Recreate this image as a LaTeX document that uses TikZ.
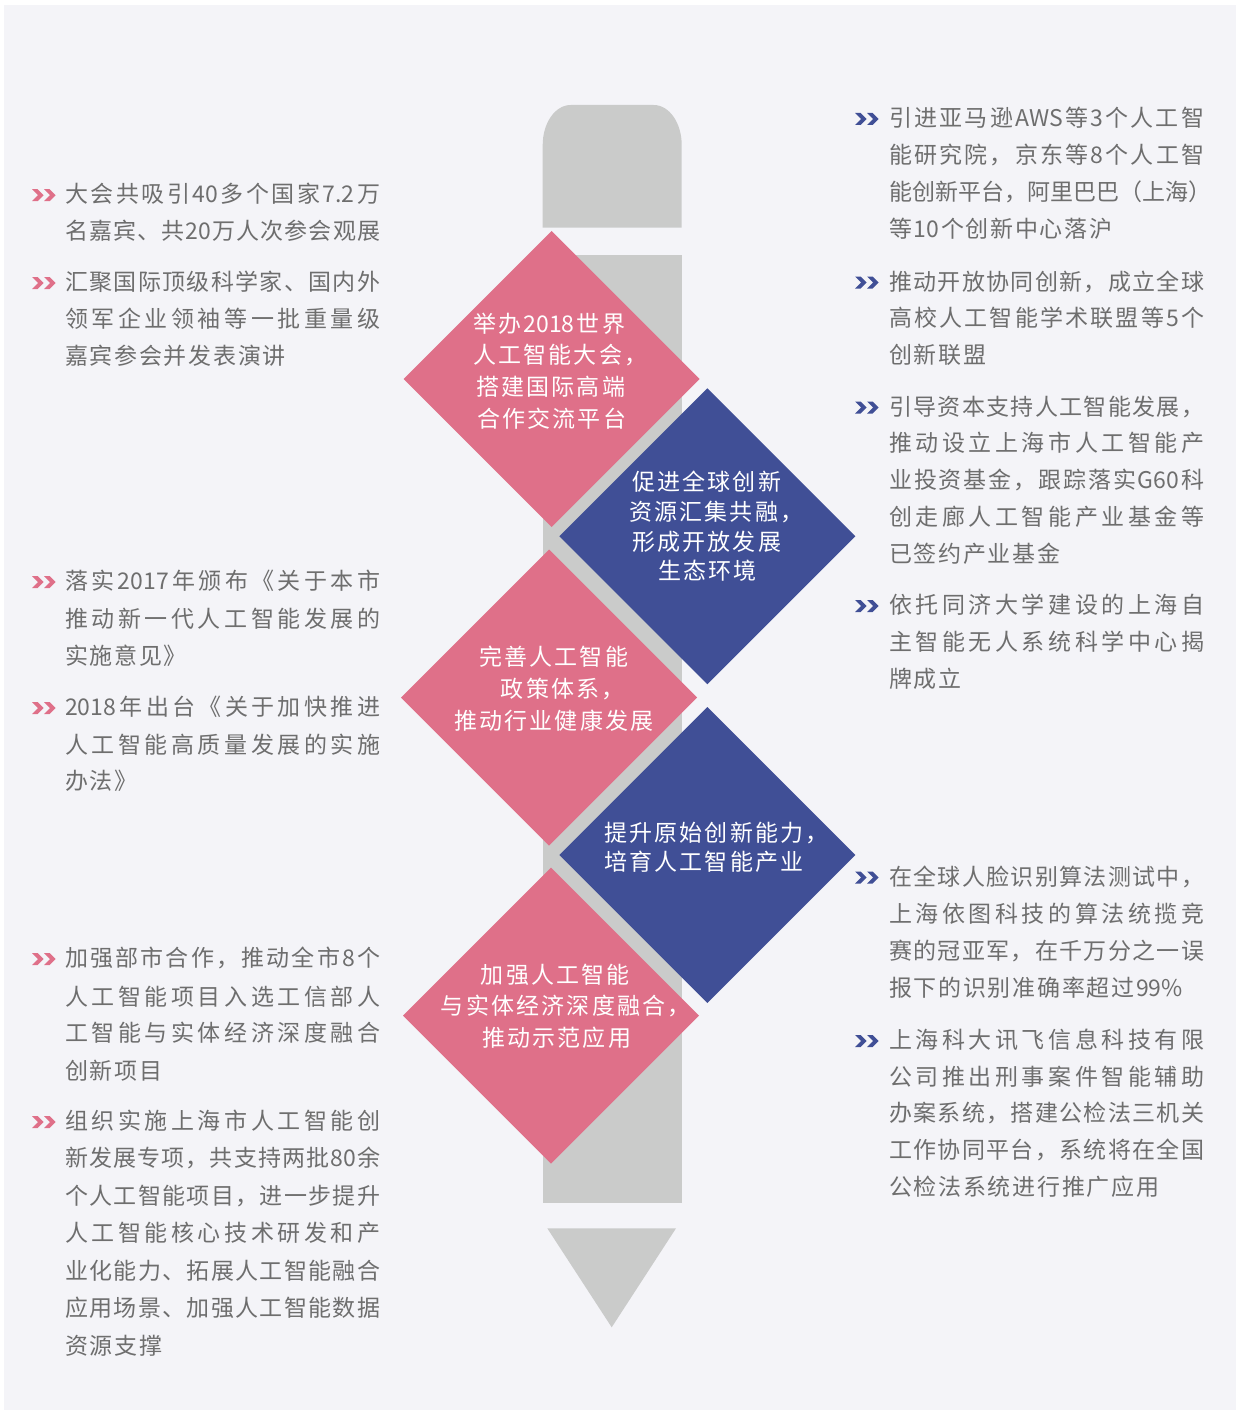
\documentclass[tikz,border=0pt]{standalone}
\usepackage{fontspec}
\setmainfont{Noto Sans CJK SC}
\definecolor{pinkc}{HTML}{DF7089}
\definecolor{bluec}{HTML}{404F96}
\definecolor{barc}{HTML}{CACBCA}
\definecolor{bgc}{HTML}{F4F4F8}
\definecolor{txtc}{HTML}{6E6E6E}
\ExplSyntaxOn
\NewDocumentCommand\JL{m}{\hbox_to_wd:nn {315pt} { \tl_map_inline:nn {#1} { ##1 \hfil } \unskip }}
\NewDocumentCommand\NL{m}{\tl_map_inline:nn {#1} { ##1 \kern 1.7pt } \unkern}
\NewDocumentCommand\DL{m}{\tl_map_inline:nn {#1} { ##1 \kern 2.2pt } \unkern}
\ExplSyntaxOff
\tikzset{
  txt/.style={inner sep=0pt, anchor=base west, text=txtc, font=\fontsize{23}{28}\selectfont},
  dtxt/.style={inner sep=0pt, anchor=base west, text=white, font=\fontsize{23}{28}\selectfont},
}
% full line, natural line, diamond line: name, x (ink left), y (ink centre), text
\newcommand\LF[4]{\node[txt] (#1) at (#2,#3+8.7) {\JL{#4}};}
\newcommand\LN[4]{\node[txt] (#1) at (#2,#3+8.7) {\NL{#4}};}
\newcommand\DT[4]{\node[dtxt] (#1) at (#2-1,#3+8.7) {\DL{#4}};}
\newcommand\chev[3]{%
  \fill[#3] (#1,#2-6) -- ++(5.6,0) -- ++(6,6) -- ++(-6,6) -- ++(-5.6,0) -- ++(6,-6) -- cycle;
  \fill[#3] (#1+12,#2-6) -- ++(5.6,0) -- ++(6,6) -- ++(-6,6) -- ++(-5.6,0) -- ++(6,-6) -- cycle;}
\begin{document}
\begin{tikzpicture}[x=1pt,y=-1pt]
\useasboundingbox (0,0) rectangle (1239,1415);
\fill[white] (0,0) rectangle (1239,1415);
\fill[bgc] (4,5) rectangle (1236,1410);
% pencil-like bar
\fill[barc] (542.7,227.7) -- (542.7,145) .. controls (542.7,122.9) and (555.2,105) .. (570.7,105)
  -- (653.7,105) .. controls (669.2,105) and (681.7,122.9) .. (681.7,145) -- (681.7,227.7) -- cycle;
\fill[barc] (542.7,255) rectangle (681.7,1202.7);
\fill[barc] (547.3,1228.3) -- (676,1228.3) -- (611.7,1327.3) -- cycle;
% diamonds
\fill[pinkc] (551.5,231) -- (699.5,379) -- (551.5,527) -- (403.5,379) -- cycle;
\fill[bluec] (707.3,388.3) -- (855.3,536.3) -- (707.3,684.3) -- (559.3,536.3) -- cycle;
\fill[pinkc] (549,549.5) -- (697,697.5) -- (549,845.5) -- (401,697.5) -- cycle;
\fill[bluec] (707.3,707) -- (855.3,855) -- (707.3,1003) -- (559.3,855) -- cycle;
\fill[pinkc] (551,867.7) -- (699,1015.7) -- (551,1163.7) -- (403,1015.7) -- cycle;
% diamond texts
\DT{p1a}{474}{323.5}{举办{2018}世界}
\DT{p1b}{474}{355}{人工智能大会，}
\DT{p1c}{477}{386.7}{搭建国际高端}
\DT{p1d}{478}{418.5}{合作交流平台}
\DT{q1a}{633}{482}{促进全球创新}
\DT{q1b}{630}{512}{资源汇集共融，}
\DT{q1c}{633}{541.7}{形成开放发展}
\DT{q1d}{659}{570.4}{生态环境}
\DT{p2a}{480}{657}{完善人工智能}
\DT{p2b}{501.7}{689}{政策体系，}
\DT{p2c}{455}{721}{推动行业健康发展}
\DT{q2a}{605}{833}{提升原始创新能力，}
\DT{q2b}{605}{862}{培育人工智能产业}
\DT{p3a}{481.7}{974.5}{加强人工智能}
\DT{p3b}{441.7}{1006}{与实体经济深度融合，}
\DT{p3c}{483}{1038}{推动示范应用}
% left column
\chev{32}{195.2}{pinkc}
\LF{a1}{65}{194.2}{大会共吸引{40}多个国家{7.2}万}
\LF{a2}{65}{230.8}{名嘉宾、共{20}万人次参会观展}
\chev{32}{283}{pinkc}
\LF{b1}{65}{282}{汇聚国际顶级科学家、国内外}
\LF{b2}{65}{318.5}{领军企业领袖等一批重量级}
\LN{b3}{65}{355.5}{嘉宾参会并发表演讲}
\chev{32}{582}{pinkc}
\LF{c1}{65}{581}{落实{2017}年颁布《关于本市}
\LF{c2}{65}{619}{推动新一代人工智能发展的}
\LN{c3}{65}{656}{实施意见》}
\chev{32}{708}{pinkc}
\LF{d1}{65}{707}{{2018}年出台《关于加快推进}
\LF{d2}{65}{744.5}{人工智能高质量发展的实施}
\LN{d3}{65}{781}{办法》}
\chev{32}{959}{pinkc}
\LF{e1}{65}{958}{加强部市合作，推动全市{8}个}
\LF{e2}{65}{996.5}{人工智能项目入选工信部人}
\LF{e3}{65}{1033}{工智能与实体经济深度融合}
\LN{e4}{65}{1070.5}{创新项目}
\chev{32}{1122}{pinkc}
\LF{f1}{65}{1121}{组织实施上海市人工智能创}
\LF{f2}{65}{1158}{新发展专项，共支持两批{80}余}
\LF{f3}{65}{1196}{个人工智能项目，进一步提升}
\LF{f4}{65}{1233}{人工智能核心技术研发和产}
\LF{f5}{65}{1271}{业化能力、拓展人工智能融合}
\LF{f6}{65}{1308}{应用场景、加强人工智能数据}
\LN{f7}{65}{1345.5}{资源支撑}
% right column
\chev{855}{119}{bluec}
\LF{g1}{889}{118}{引进亚马逊{AWS}等{3}个人工智}
\LF{g2}{889}{155}{能研究院，京东等{8}个人工智}
\LF{g3}{889}{192}{能创新平台，阿里巴巴（上海）}
\LN{g4}{889}{228.5}{等{10}个创新中心落沪}
\chev{855}{282.5}{bluec}
\LF{h1}{889}{281.5}{推动开放协同创新，成立全球}
\LF{h2}{889}{318}{高校人工智能学术联盟等{5}个}
\LN{h3}{889}{355}{创新联盟}
\chev{855}{407.5}{bluec}
\LF{i1}{889}{406.5}{引导资本支持人工智能发展，}
\LF{i2}{889}{443}{推动设立上海市人工智能产}
\LF{i3}{889}{480}{业投资基金，跟踪落实{G60}科}
\LF{i4}{889}{517}{创走廊人工智能产业基金等}
\LN{i5}{889}{554}{已签约产业基金}
\chev{855}{606}{bluec}
\LF{j1}{889}{605}{依托同济大学建设的上海自}
\LF{j2}{889}{642}{主智能无人系统科学中心揭}
\LN{j3}{889}{679}{牌成立}
\chev{855}{877.5}{bluec}
\LF{k1}{889}{876.5}{在全球人脸识别算法测试中，}
\LF{k2}{889}{914}{上海依图科技的算法统揽竞}
\LF{k3}{889}{951}{赛的冠亚军，在千万分之一误}
\LN{k4}{889}{988}{报下的识别准确率超过{99\%}}
\chev{855}{1041}{bluec}
\LF{l1}{889}{1040}{上海科大讯飞信息科技有限}
\LF{l2}{889}{1077}{公司推出刑事案件智能辅助}
\LF{l3}{889}{1113}{办案系统，搭建公检法三机关}
\LF{l4}{889}{1150}{工作协同平台，系统将在全国}
\LN{l5}{889}{1187}{公检法系统进行推广应用}
\end{tikzpicture}
\end{document}
